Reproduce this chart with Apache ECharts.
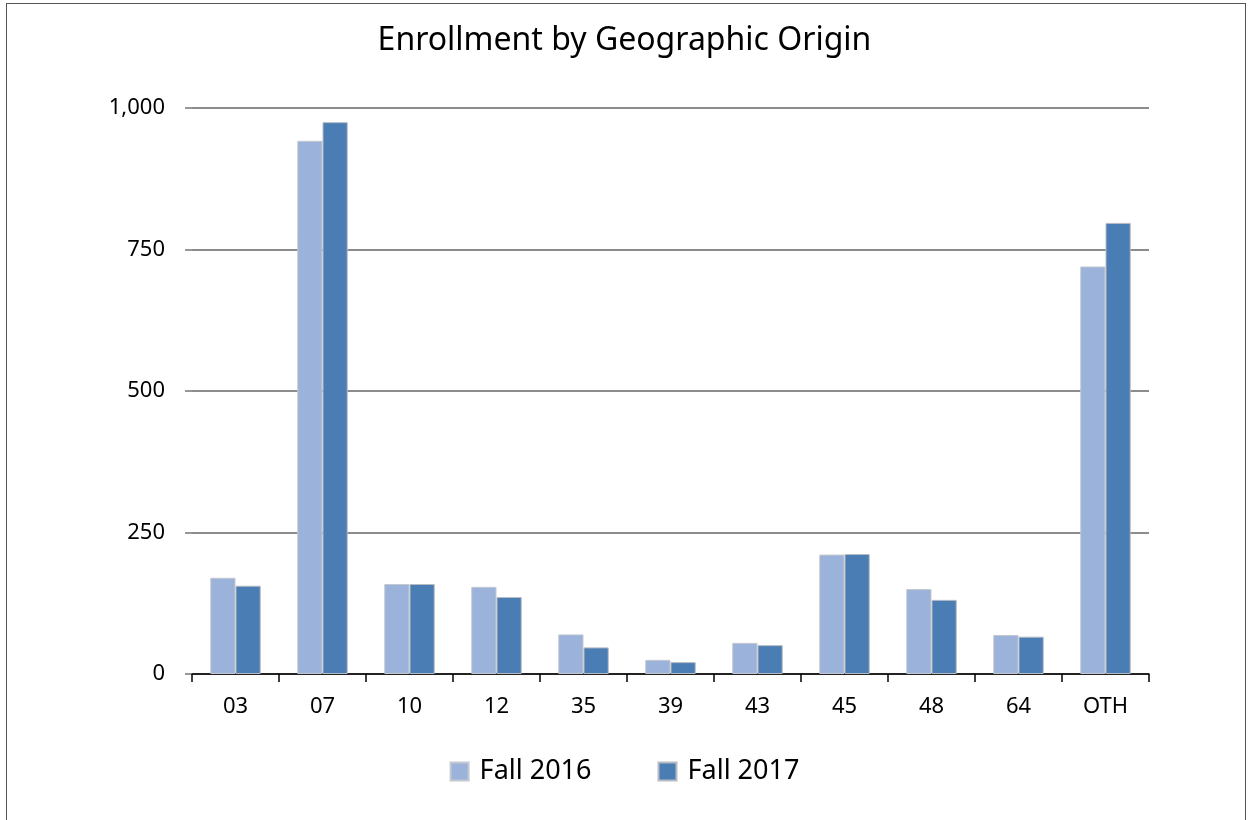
<!DOCTYPE html>
<html>
<head>
<meta charset="utf-8">
<script src="https://cdn.jsdelivr.net/npm/echarts@6/dist/echarts.min.js"></script>
<style>
  html, body { margin: 0; padding: 0; background: #fff; }
  #frame { position: absolute; left: 6px; top: 3px; width: 1240px; height: 830px; border: 1px solid #555; box-sizing: border-box; }
  #main { position: absolute; left: 0; top: 0; width: 1249px; height: 820px; }
</style>
</head>
<body>
<div id="frame"></div>
<div id="main"></div>
<script>
// regions
const categories = ['03', '07', '10', '12', '35', '39', '43', '45', '48', '64', 'OTH'];
const fall2016 = [170, 942, 159, 154, 70, 25, 55, 211, 150, 69, 720];
const fall2017 = [156, 975, 159, 136, 47, 21, 51, 212, 131, 66, 797];
const yTicks = [0, 250, 500, 750, 1000];

const chart = echarts.init(document.getElementById('main'), null, {renderer: 'canvas'});
const font = 'Noto Sans';

chart.setOption({
    animation: false,
    title: {
        text: 'Enrollment by Geographic Origin',
        left: 'center',
        top: 20,
        textStyle: {fontFamily: font, fontSize: 32, fontWeight: 'normal', color: '#000'}
    },
    legend: {
        bottom: 30,
        left: 'center',
        itemWidth: 18,
        itemHeight: 18,
        itemGap: 66,
        icon: 'rect',
        textStyle: {fontFamily: font, fontSize: 27, color: '#000', padding: [0, 0, 0, 6]},
        data: ['Fall 2016', 'Fall 2017']
    },
    grid: {left: 192, right: 100, top: 108, bottom: 146, containLabel: false},
    xAxis: {
        type: 'category',
        data: categories,
        axisLine: {lineStyle: {color: '#000', width: 1.5}},
        axisTick: {show: true, length: 8, lineStyle: {color: '#000', width: 1.5}},
        axisLabel: {fontFamily: font, fontSize: 22, color: '#000', margin: 22}
    },
    yAxis: {
        type: 'value',
        min: 0,
        max: 1000,
        interval: 250,
        axisLine: {show: false},
        axisTick: {show: true, length: 7, lineStyle: {color: '#777', width: 1.5}},
        splitLine: {lineStyle: {color: '#8c8c8c', width: 2}},
        axisLabel: {
            fontFamily: font, fontSize: 22, color: '#000', margin: 27,
            formatter: function (v) {
                return yTicks.indexOf(v) >= 0 ? v.toLocaleString('en-US') : '';
            }
        }
    },
    series: [
        {
            name: 'Fall 2016',
            type: 'bar',
            data: fall2016,
            barGap: '0%',
            barCategoryGap: '42%',
            itemStyle: {color: '#9bb2da', borderColor: '#c4c8cf', borderWidth: 1}
        },
        {
            name: 'Fall 2017',
            type: 'bar',
            data: fall2017,
            itemStyle: {color: '#4a7db3', borderColor: '#b7bcc4', borderWidth: 1}
        }
    ]
});
</script>
</body>
</html>
